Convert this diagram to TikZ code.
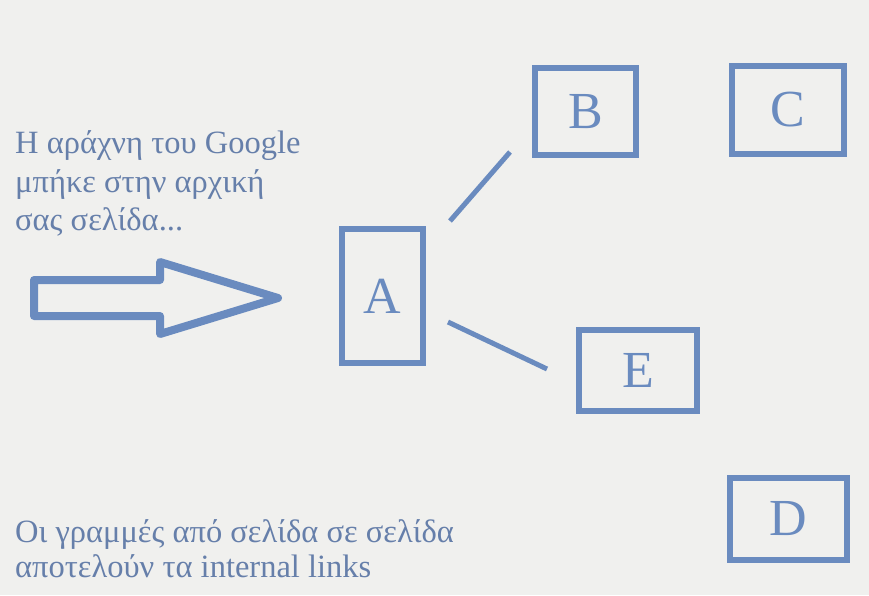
\documentclass[tikz,border=0pt]{standalone}
\usepackage{fontspec}
\setmainfont{Liberation Serif}
\definecolor{paper}{RGB}{240,240,238}
\definecolor{boxblue}{RGB}{106,139,191}
\definecolor{textblue}{RGB}{102,127,170}
\tikzset{
  page/.style={boxblue, line width=6pt, minimum width=#1, inner sep=0pt, outer sep=0pt,
    font=\fontsize{52}{52}\selectfont, text=boxblue},
  link/.style={boxblue, line width=5pt},
  caption/.style={anchor=base west, inner sep=0pt, text=textblue, font=\fontsize{32.5}{35}\selectfont},
}
\begin{document}
\begin{tikzpicture}[x=1pt, y=-1pt]
  % background sheet
  \fill[paper] (0,0) rectangle (869,595);
  \useasboundingbox (0,0) rectangle (869,595);

  % page boxes
  \node[page=81pt, minimum height=134pt, draw] (A) at (382.5,296) {A};
  \node[page=101pt, minimum height=87pt, draw] (B) at (585.5,111.5) {B};
  \node[page=112pt, minimum height=88pt, draw] (C) at (788,110) {C};
  \node[page=117pt, minimum height=82pt, draw] (D) at (788.5,519) {D};
  \node[page=118pt, minimum height=81pt, draw] (E) at (638,370.5) {E};

  % internal links between pages
  \coordinate (ab1) at (450,221);
  \coordinate (ab2) at (510,152);
  \coordinate (ae1) at (448,322);
  \coordinate (ae2) at (547,369);
  \draw[link] (ab1) -- (ab2);
  \draw[link] (ae1) -- (ae2);

  % hollow arrow pointing at the home page
  \draw[boxblue, line width=8pt, line join=round]
    (34,280) -- (160,280) -- (160,262) -- (278,298) -- (160,334) -- (160,316) -- (34,316) -- cycle;

  % captions
  \node[caption] (t1) at (15,153) {Η αράχνη του Google};
  \node[caption] (t2) at (15,192) {μπήκε στην αρχική};
  \node[caption] (t3) at (15,230) {σας σελίδα...};
  \node[caption] (b1) at (15,542) {Οι γραμμές από σελίδα σε σελίδα};
  \node[caption] (b2) at (15,577) {αποτελούν τα internal links};
\end{tikzpicture}
\end{document}
